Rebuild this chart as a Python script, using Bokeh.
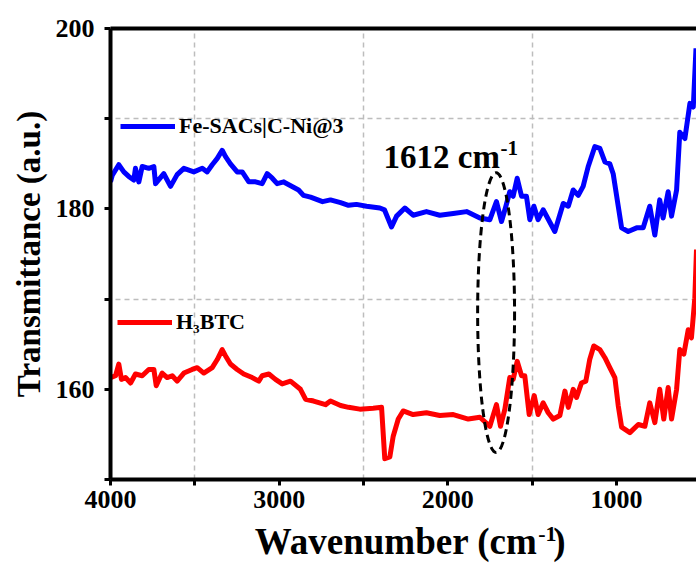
from bokeh.plotting import figure
from bokeh.layouts import column
from bokeh.models import (Legend, LegendItem, Label, FixedTicker, LinearAxis,
                          Range1d, ColumnDataSource)
from bokeh.embed import file_html
from bokeh.resources import INLINE

# ---- data ----
fe_wn = [4000, 3990, 3951, 3921, 3892, 3862, 3852, 3832, 3812, 3773, 3743, 3733,
         3684, 3644, 3605, 3565, 3506, 3456, 3427, 3397, 3367, 3338, 3318, 3289,
         3249, 3219, 3180, 3140, 3101, 3071, 3041, 3012, 2973, 2965, 2885, 2856,
         2814, 2743, 2696, 2636, 2589, 2542, 2482, 2403, 2376, 2334, 2304, 2255,
         2206, 2127, 2048, 1968, 1889, 1810, 1751, 1712, 1682, 1656, 1633, 1613,
         1589, 1563, 1534, 1514, 1490, 1465, 1435, 1366, 1316, 1286, 1257, 1227,
         1198, 1168, 1129, 1099, 1069, 1040, 1020, 990, 970, 931, 881, 842, 803,
         773, 744, 724, 694, 674, 644, 625, 595, 565, 545, 529]
fe_t = [183.0, 183.7, 184.9, 184.1, 183.6, 183.2, 184.5, 183.0, 184.7, 184.5, 184.7, 182.8,
        183.9, 182.5, 183.8, 184.5, 184.1, 184.5, 184.1, 184.9, 185.6, 186.5, 185.8, 185.0,
        184.1, 184.1, 183.0, 183.0, 182.8, 183.9, 183.4, 182.8, 183.0, 182.9, 182.1, 181.5,
        181.3, 180.8, 181.0, 180.7, 180.4, 180.5, 180.3, 180.1, 179.9, 178.0, 179.2, 180.1,
        179.3, 179.7, 179.3, 179.5, 179.7, 179.0, 178.8, 180.8, 178.6, 180.3, 181.9, 181.4,
        183.4, 181.4, 181.4, 178.8, 180.3, 178.8, 179.9, 177.5, 180.6, 180.3, 182.1, 181.5,
        182.5, 184.7, 186.9, 186.7, 185.2, 185.0, 183.9, 180.3, 177.9, 177.5, 177.9, 177.9, 180.3,
        177.1, 181.0, 179.0, 181.9, 179.2, 182.1, 188.5, 187.8, 191.7, 191.3, 197.8]

h3_wn = [4000, 3970, 3951, 3935, 3911, 3881, 3852, 3812, 3773, 3743, 3729, 3694,
         3664, 3634, 3605, 3565, 3516, 3486, 3447, 3397, 3367, 3338, 3318, 3289,
         3249, 3210, 3160, 3121, 3101, 3061, 3022, 2982, 2933, 2874, 2844, 2796,
         2725, 2696, 2636, 2589, 2522, 2443, 2393, 2374, 2344, 2324, 2294, 2265,
         2206, 2127, 2048, 1968, 1879, 1810, 1751, 1712, 1688, 1662, 1633, 1613,
         1589, 1563, 1544, 1518, 1488, 1465, 1435, 1405, 1375, 1336, 1306, 1286,
         1257, 1237, 1208, 1182, 1159, 1135, 1099, 1069, 1040, 1010, 990, 970,
         921, 871, 832, 803, 773, 744, 720, 694, 674, 644, 625, 601, 575, 556, 536, 526]
h3_t = [161.3, 161.5, 162.8, 161.1, 161.3, 160.7, 161.7, 161.5, 162.2, 162.2, 160.4, 161.8,
        161.3, 161.5, 160.9, 161.8, 162.2, 162.4, 161.8, 162.4, 163.3, 164.4, 163.7, 162.8,
        162.2, 161.7, 161.3, 160.9, 161.5, 161.7, 161.1, 160.6, 160.9, 160.0, 158.9, 158.7,
        158.3, 158.7, 158.2, 158.0, 157.8, 157.9, 158.0, 152.3, 152.5, 154.8, 156.7, 157.6,
        157.2, 157.4, 157.1, 157.2, 156.7, 156.9, 155.9, 158.3, 155.9, 157.8, 161.3, 161.1,
        163.1, 161.5, 161.5, 157.2, 159.3, 157.2, 158.5, 157.4, 156.7, 157.1, 159.8, 158.0,
        160.0, 159.1, 160.7, 160.9, 163.3, 164.8, 164.4, 163.5, 162.4, 161.3, 158.2, 155.8,
        155.2, 156.1, 155.9, 158.5, 156.3, 160.0, 156.7, 160.2, 156.7, 160.0, 164.4, 163.9,
        166.6, 165.7, 170.1, 175.5]

x_major = [4000, 3000, 2000, 1000]
x_minor = [3500, 2500, 1500, 500]
y_major = [160, 180, 200]
y_minor = [150, 170, 190]

fe_label = "Fe-SACs|C-Ni@3"
h3_label = "H\u2083BTC"
x_title_main, x_title_sup, x_title_end = "Wavenumber (cm", "-1", ")"
y_title = "Transmittance (a.u.)"
peak_main, peak_sup = "1612 cm", "-1"
# dashed ellipse around the band (data units)
ell_x, ell_y, ell_w, ell_h = 1714, 168.5, 219, 31

FONT = "Liberation Serif"
W, H_MAIN, H_TITLE = 696, 521, 42

p = figure(width=W, height=H_MAIN, x_range=Range1d(4000, 526), y_range=Range1d(150, 200),
           output_backend="svg", toolbar_location=None,
           min_border_left=110, min_border_right=0, min_border_top=28, min_border_bottom=42)
p.outline_line_color = None
p.background_fill_color = "white"
p.border_fill_color = "white"

# grid at minor positions
p.xgrid.ticker = FixedTicker(ticks=x_minor)
p.ygrid.ticker = FixedTicker(ticks=[170, 190])
for g in (p.xgrid, p.ygrid):
    g.grid_line_color = "#bdbdbd"
    g.grid_line_dash = "5 4"
    g.grid_line_width = 1.5

def style_axis(ax, size="26px"):
    ax.axis_line_width = 4
    ax.axis_line_color = "black"
    ax.major_tick_line_width = 3
    ax.minor_tick_line_width = 3
    ax.major_tick_out = 6
    ax.major_tick_in = 0
    ax.minor_tick_out = 6
    ax.minor_tick_in = 0
    ax.major_label_text_font = FONT
    ax.major_label_text_font_style = "bold"
    ax.major_label_text_font_size = size
    ax.major_label_text_color = "black"
    ax.axis_label_text_font = FONT
    ax.axis_label_text_font_style = "bold"
    ax.axis_label_text_font_size = "33px"
    ax.axis_label_text_color = "black"

xa = p.xaxis[0]
xa.ticker = FixedTicker(ticks=x_major, minor_ticks=x_minor)
style_axis(xa)
xa.major_label_standoff = 5

ya = p.yaxis[0]
ya.ticker = FixedTicker(ticks=y_major, minor_ticks=y_minor)
style_axis(ya)
ya.major_label_standoff = 10
ya.axis_label = y_title
ya.axis_label_standoff = 6

top = LinearAxis(ticker=FixedTicker(ticks=[]), axis_line_width=4, axis_line_color="black",
                 major_tick_line_color=None, minor_tick_line_color=None,
                 major_label_text_font_size="0px")
p.add_layout(top, "above")

fe_src = ColumnDataSource(dict(x=fe_wn, y=fe_t))
h3_src = ColumnDataSource(dict(x=h3_wn, y=h3_t))
r_fe = p.line("x", "y", source=fe_src, line_color="#0000ff", line_width=5, line_join="round")
r_h3 = p.line("x", "y", source=h3_src, line_color="#ff0000", line_width=5, line_join="round")

p.ellipse(x=[ell_x], y=[ell_y], width=[ell_w], height=[ell_h], fill_color=None,
          line_color="black", line_width=3, line_dash="8 5")

def txt(fig, x, y, s, size, align="left"):
    fig.add_layout(Label(x=x, y=y, text=s, text_font=FONT, text_font_style="bold",
                         text_font_size=size, text_color="black",
                         text_baseline="alphabetic", text_align=align))

# peak annotation with superscript
txt(p, 2381, 185.8, peak_main, "33px")
txt(p, 1688, 186.8, peak_sup, "21px")

def make_legend(item_label, renderer, loc):
    lg = Legend(items=[LegendItem(label=item_label, renderers=[renderer])], location=loc,
                label_text_font=FONT, label_text_font_style="bold", label_text_font_size="22px",
                label_text_color="black", glyph_width=55, glyph_height=20, label_standoff=4,
                padding=0, margin=0, spacing=0, border_line_color=None,
                background_fill_alpha=0, label_height=20)
    return lg

p.add_layout(make_legend(fe_label, r_fe, (10, 340)))
p.add_layout(make_legend(h3_label, r_h3, (7, 144)))

# strip below the plot holding the x axis title (with a real superscript)
t = figure(width=W, height=H_TITLE, x_range=Range1d(0, W), y_range=Range1d(0, H_TITLE),
           x_axis_type=None, y_axis_type=None,
           output_backend="svg", toolbar_location=None,
           min_border=0, min_border_left=0, min_border_right=0, min_border_top=0,
           min_border_bottom=0)
t.grid.visible = False
t.outline_line_color = None
t.background_fill_color = "white"
t.border_fill_color = "white"
txt(t, 507, 22, x_title_main, "37px", "right")
txt(t, 508, 29.5, x_title_sup, "22px")
txt(t, 526, 22, x_title_end, "37px")

layout = column(p, t, spacing=0)
open("out.html", "w").write(file_html(layout, INLINE))
